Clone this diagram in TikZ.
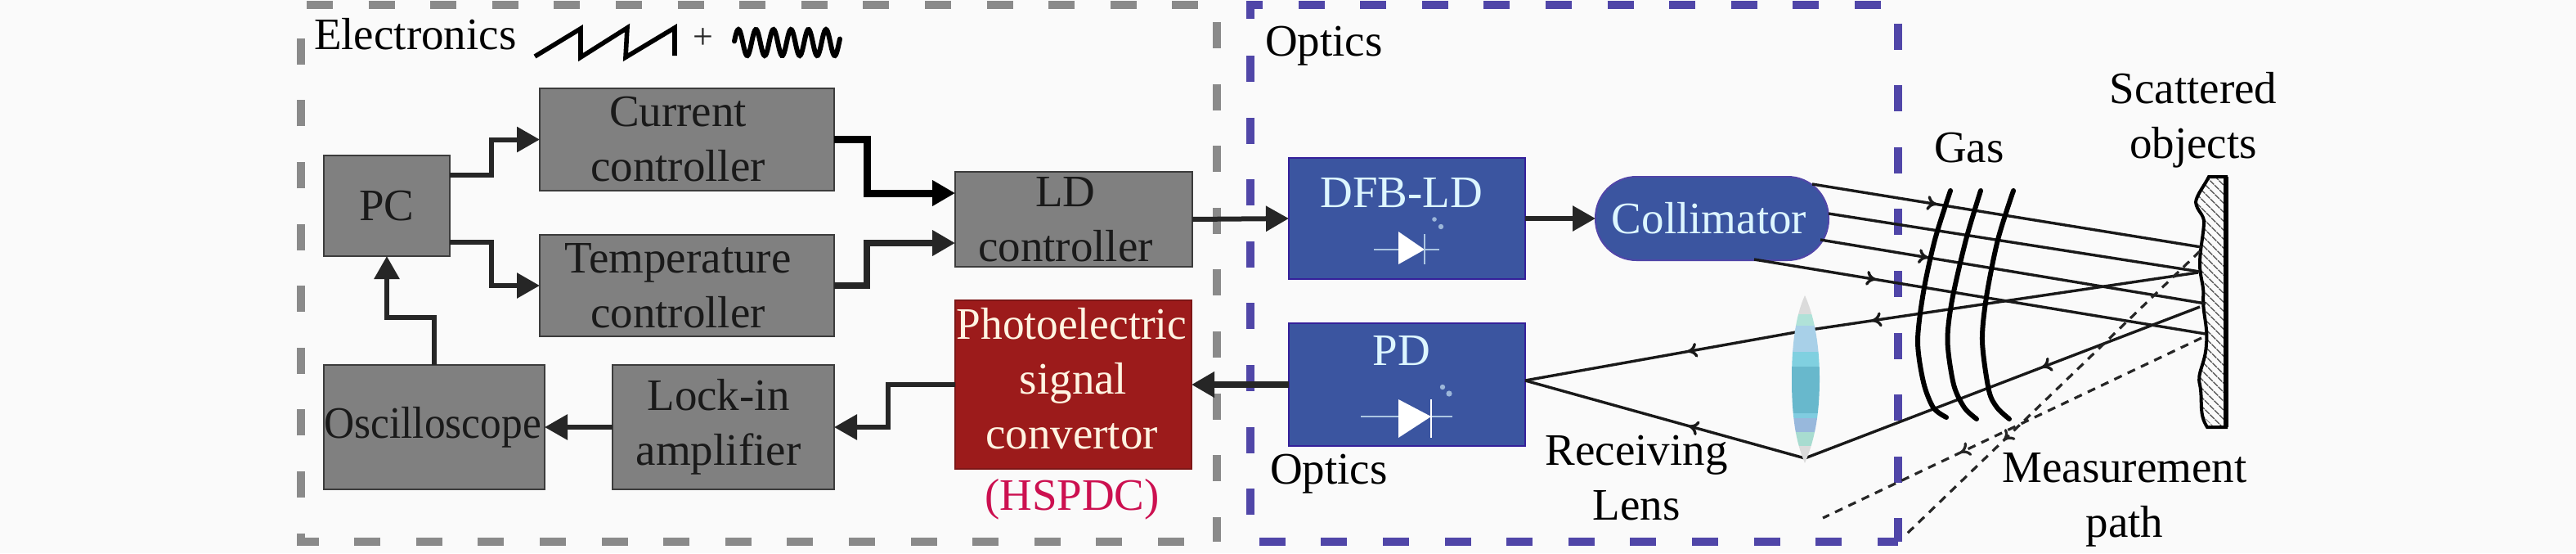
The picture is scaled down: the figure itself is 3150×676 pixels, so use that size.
\documentclass[tikz,border=0pt]{standalone}
\usepackage{fontspec}
\setmainfont{Liberation Serif}
\usetikzlibrary{arrows.meta,patterns.meta,decorations.markings}
\definecolor{pagebg}{HTML}{FAFAFA}
\definecolor{boxgray}{HTML}{808080}
\definecolor{edgegray}{HTML}{3C3C3C}
\definecolor{ink}{HTML}{262626}
\definecolor{boxink}{HTML}{1A1A1A}
\definecolor{dashgray}{HTML}{8A8A8A}
\definecolor{dashpurple}{HTML}{5046A8}
\definecolor{boxblue}{HTML}{3B55A0}
\definecolor{edgeblue}{HTML}{35209A}
\definecolor{boxred}{HTML}{9C1B1B}
\definecolor{textcyan}{HTML}{DDF6FF}
\definecolor{textcream}{HTML}{FFF4E2}
\definecolor{hspdc}{HTML}{CC1050}
\definecolor{lensa}{HTML}{B0E2D8}
\definecolor{lensb}{HTML}{A8D0E8}
\definecolor{lensc}{HTML}{80D0E0}
\definecolor{lensd}{HTML}{68B8CC}
\definecolor{lense}{HTML}{80CCE0}
\definecolor{lensf}{HTML}{98B8DC}
\definecolor{lensg}{HTML}{A8DCD0}
\newcommand{\rpad}[1]{\hspace*{#1}}
\tikzset{
  x=0.5pt,y=-0.5pt,
  txt/.style={font=\fontsize{27.5}{33.5}\selectfont,inner sep=0pt,outer sep=0pt},
  lbl/.style={txt,anchor=base,text=black},
  graybox/.style={txt,draw=edgegray,line width=1pt,fill=boxgray,text=boxink,align=center},
  bluebox/.style={txt,draw=edgeblue,line width=1pt,fill=boxblue,text=textcyan,align=center},
  redbox/.style={txt,draw=boxred!80!black,line width=1pt,fill=boxred,text=textcream,align=center},
  conn/.style={draw=ink,line width=3pt,line join=miter,-{Triangle[length=14pt,width=15pt]}},
  heavy/.style={conn,draw=black,line width=4.5pt},
  medium/.style={conn,line width=3.8pt},
  grayframe/.style={draw=dashgray,line width=4.6pt,dash pattern=on 16pt off 21.8pt},
  purpleframe/.style={draw=dashpurple,line width=4.6pt,dash pattern=on 16pt off 21.8pt},
  beam/.style={draw=black!90,line width=1.7pt},
  gasarc/.style={draw=black,line width=3pt,line cap=round},
  mesh/.style={draw=ink,line width=1.6pt,dash pattern=on 5pt off 4pt},
  tipat/.style={postaction={decorate},decoration={markings,mark=at position #1 with {\arrow{To[length=6pt,width=9pt]}}}},
  wire/.style={draw=textcyan!70!boxblue,line width=0.8pt},
}
\begin{document}
\begin{tikzpicture}
\useasboundingbox[fill=pagebg] (0,0) rectangle (3150,676);

% dashed frames
\draw[grayframe] (375,6) -- (1488,6) -- (1488,662);
\draw[grayframe] (1448,662) -- (368,662) -- (368,43);
\draw[purpleframe] (1529,23) -- (1529,6) -- (2321,6) -- (2321,662);
\draw[purpleframe] (1529,68) -- (1529,662) -- (2321,662);

% electronics boxes
\node[graybox,minimum width=77pt,minimum height=61.5pt] (pc) at (473,251.5) {PC};
\node[graybox,minimum width=180pt,minimum height=62.5pt] (cur) at (840,170.5) {Current\rpad{11pt}\\controller\rpad{11pt}};
\node[graybox,minimum width=180pt,minimum height=62pt] (temp) at (840,349) {Temperature\rpad{11pt}\\controller\rpad{11pt}};
\node[graybox,minimum width=145pt,minimum height=58pt] (ld) at (1313,268) {LD\rpad{10pt}\\controller\rpad{10pt}};
\node[graybox,minimum width=135pt,minimum height=76pt] (osc) at (531,522) {\scalebox{0.935}[1]{Oscilloscope}\rpad{2pt}};
\node[graybox,minimum width=135.5pt,minimum height=76pt] (lock) at (884.5,522) {Lock-in\rpad{6pt}\\amplifier\rpad{6pt}};
\node[redbox,minimum width=144.5pt,minimum height=103pt] (photo) at (1312.5,470) {\scalebox{0.97}[1]{Photoelectric}\rpad{2pt}\\signal\rpad{2pt}\\convertor\rpad{2pt}\rule[-8pt]{0pt}{8pt}};

% optics boxes
\node[bluebox,minimum width=144.5pt,minimum height=74pt] (dfb) at (1720.5,267) {};
\node[bluebox,minimum width=144.5pt,minimum height=75pt] (pd) at (1720.5,470) {};
\node[txt,text=textcyan,anchor=base] (dfbtext) at (1714,253) {DFB-LD};
\node[txt,text=textcyan,anchor=base] (pdtext) at (1714,446) {PD};
\node[bluebox,rounded corners=25pt,minimum width=142.5pt,minimum height=51pt,draw=dashpurple] (coll) at (2093.5,267) {Collimator\rpad{3.5pt}};

% laser diode symbols
\draw[wire] (1680,305) -- (1760,305);
\fill[white] (1710,283) -- (1742,305) -- (1710,323) -- cycle;
\draw[wire] (1742,286) -- (1742,323);
\fill[textcyan!60!boxblue] (1754,268) circle (1.4pt) (1762,277) circle (1.6pt);
\draw[wire] (1664,509) -- (1776,509);
\fill[white] (1710,488) -- (1750,509) -- (1710,535) -- cycle;
\draw[wire,draw=white] (1750,488) -- (1750,535);
\fill[textcyan!60!boxblue] (1764,473) circle (1.6pt) (1772,481) circle (1.8pt);

% connectors
\draw[conn] ([yshift=18.75pt]pc.east) -- ++(51,0) |- (cur.west);
\draw[conn] ([yshift=-22.25pt]pc.east) -- ++(51,0) |- (temp.west);
\draw[heavy] (cur.east) -- ++(40,0) |- ([yshift=16pt]ld.west);
\draw[medium] (temp.east) -- ++(40,0) |- ([yshift=-14.5pt]ld.west);
\draw[conn] (ld.east) -- (dfb.west);
\draw[conn] (dfb.east) -- (coll.west);
\draw[medium] (pd.west) -- (photo.east);
\draw[conn] (photo.west) -- ++(-82,0) |- (lock.east);
\draw[conn] (lock.west) -- (osc.east);
\draw[conn] (osc.north) -- ++(0,-58) -| (pc.south);

% scattering surface
\draw[draw=black,line width=2pt,pattern={Lines[angle=-45,distance=4pt,line width=0.7pt]},pattern color=black!70]
  (2722,216) -- (2701,216) .. controls (2695,228) and (2686,238) .. (2685,247)
  .. controls (2686,258) and (2696,262) .. (2695,273)
  .. controls (2694,290) and (2690,305) .. (2690,323)
  .. controls (2690,340) and (2696,350) .. (2694,365)
  .. controls (2694,385) and (2700,400) .. (2698,420)
  .. controls (2697,445) and (2686,455) .. (2690,470)
  .. controls (2694,490) and (2688,505) .. (2699,522)
  -- (2722,522) -- cycle;
\draw[black,line width=2.6pt] (2722,216) -- (2722,522);

% ray end points
\coordinate (b1s) at (2216,225); \coordinate (b1e) at (2692,302);
\coordinate (b2s) at (2236,261); \coordinate (b2e) at (2690,332);
\coordinate (b3s) at (2226,293); \coordinate (b3e) at (2697,371);
\coordinate (b4s) at (2145,317); \coordinate (b4e) at (2697,408);
\coordinate (r1s) at (2688,333); \coordinate (r1m) at (2207,404);
\coordinate (r2s) at (2690,375); \coordinate (r2m) at (2207,560);
\coordinate (pdin) at ([yshift=2.5pt]pd.east);
\coordinate (m1s) at (2690,307); \coordinate (m1e) at (2332,652);
\coordinate (m2s) at (2692,413); \coordinate (m2e) at (2229,633);

% rays
\draw[beam,tipat=0.32] (b1s) -- (b1e);
\draw[beam] (b2s) -- (b2e);
\draw[beam,tipat=0.28] (b3s) -- (b3e);
\draw[beam,tipat=0.27] (b4s) -- (b4e);
\draw[beam,tipat=0.83] (r1s) -- (r1m);
\draw[beam,tipat=0.42] (r1m) -- (pdin);
\draw[beam,tipat=0.40] (r2s) -- (r2m);
\draw[beam,tipat=0.415] (r2m) -- (pdin);
\draw[mesh,tipat=0.67] (m1s) -- (m1e);
\draw[mesh,tipat=0.637] (m2s) -- (m2e);

% gas fronts
\draw[gasarc] plot[smooth] coordinates {(2385,233) (2366,293) (2352,357) (2345,417) (2352,467) (2364,498) (2380,510)};
\draw[gasarc] plot[smooth] coordinates {(2422,233) (2404,293) (2387,367) (2381.5,417) (2389,470) (2402,498) (2417,512)};
\draw[gasarc] plot[smooth] coordinates {(2462,233) (2443,293) (2429,363) (2424,417) (2432,477) (2442,498) (2457,512)};

% receiving lens
\begin{scope}
\clip (2207,361) .. controls (2196,385) and (2191,420) .. (2191,463)
  .. controls (2191,510) and (2196,540) .. (2207,566)
  .. controls (2218,540) and (2225,510) .. (2225,463)
  .. controls (2225,420) and (2218,385) .. (2207,361) -- cycle;
\fill[black!14] (2180,361) rectangle (2240,384);
\fill[lensa] (2180,384) rectangle (2240,398);
\fill[lensb] (2180,398) rectangle (2240,430);
\fill[lensc] (2180,430) rectangle (2240,448);
\fill[lensd] (2180,448) rectangle (2240,505);
\fill[lense] (2180,505) rectangle (2240,511);
\fill[lensf] (2180,511) rectangle (2240,528);
\fill[lensg] (2180,528) rectangle (2240,545);
\fill[black!14] (2180,545) rectangle (2240,566);
\end{scope}

% waveforms
\draw[black,line width=2.8pt,line join=miter] (654,69) -- (710,35) -- (710,70) -- (767,34) -- (765,70) -- (825,34) -- (825,68);
\node[txt,text=ink,font=\fontsize{22}{26}\selectfont] (plus) at (860,47) {+};
\draw[black,line width=3pt,line cap=round] plot[smooth,samples=130,domain=898:1027] (\x,{52-16*cos((\x-903)/21.4*360)});

% labels
\node[lbl,anchor=base west] (elec) at (384,60) {Electronics};
\node[lbl,anchor=base west] (opt1) at (1547,68) {Optics};
\node[lbl,anchor=base west] (opt2) at (1553,591) {Optics};
\node[lbl] (gas) at (2408,198) {Gas};
\node[txt,align=center] (scat) at (2682,146.7) {Scattered\\objects};
\node[txt,align=center] (recv) at (2001,584.5) {Receiving\\Lens};
\node[txt,align=center] (meas) at (2598,611.3) {Measurement\\path};
\node[lbl,text=hspdc] (hs) at (1311,623) {(HSPDC)};
\end{tikzpicture}
\end{document}
